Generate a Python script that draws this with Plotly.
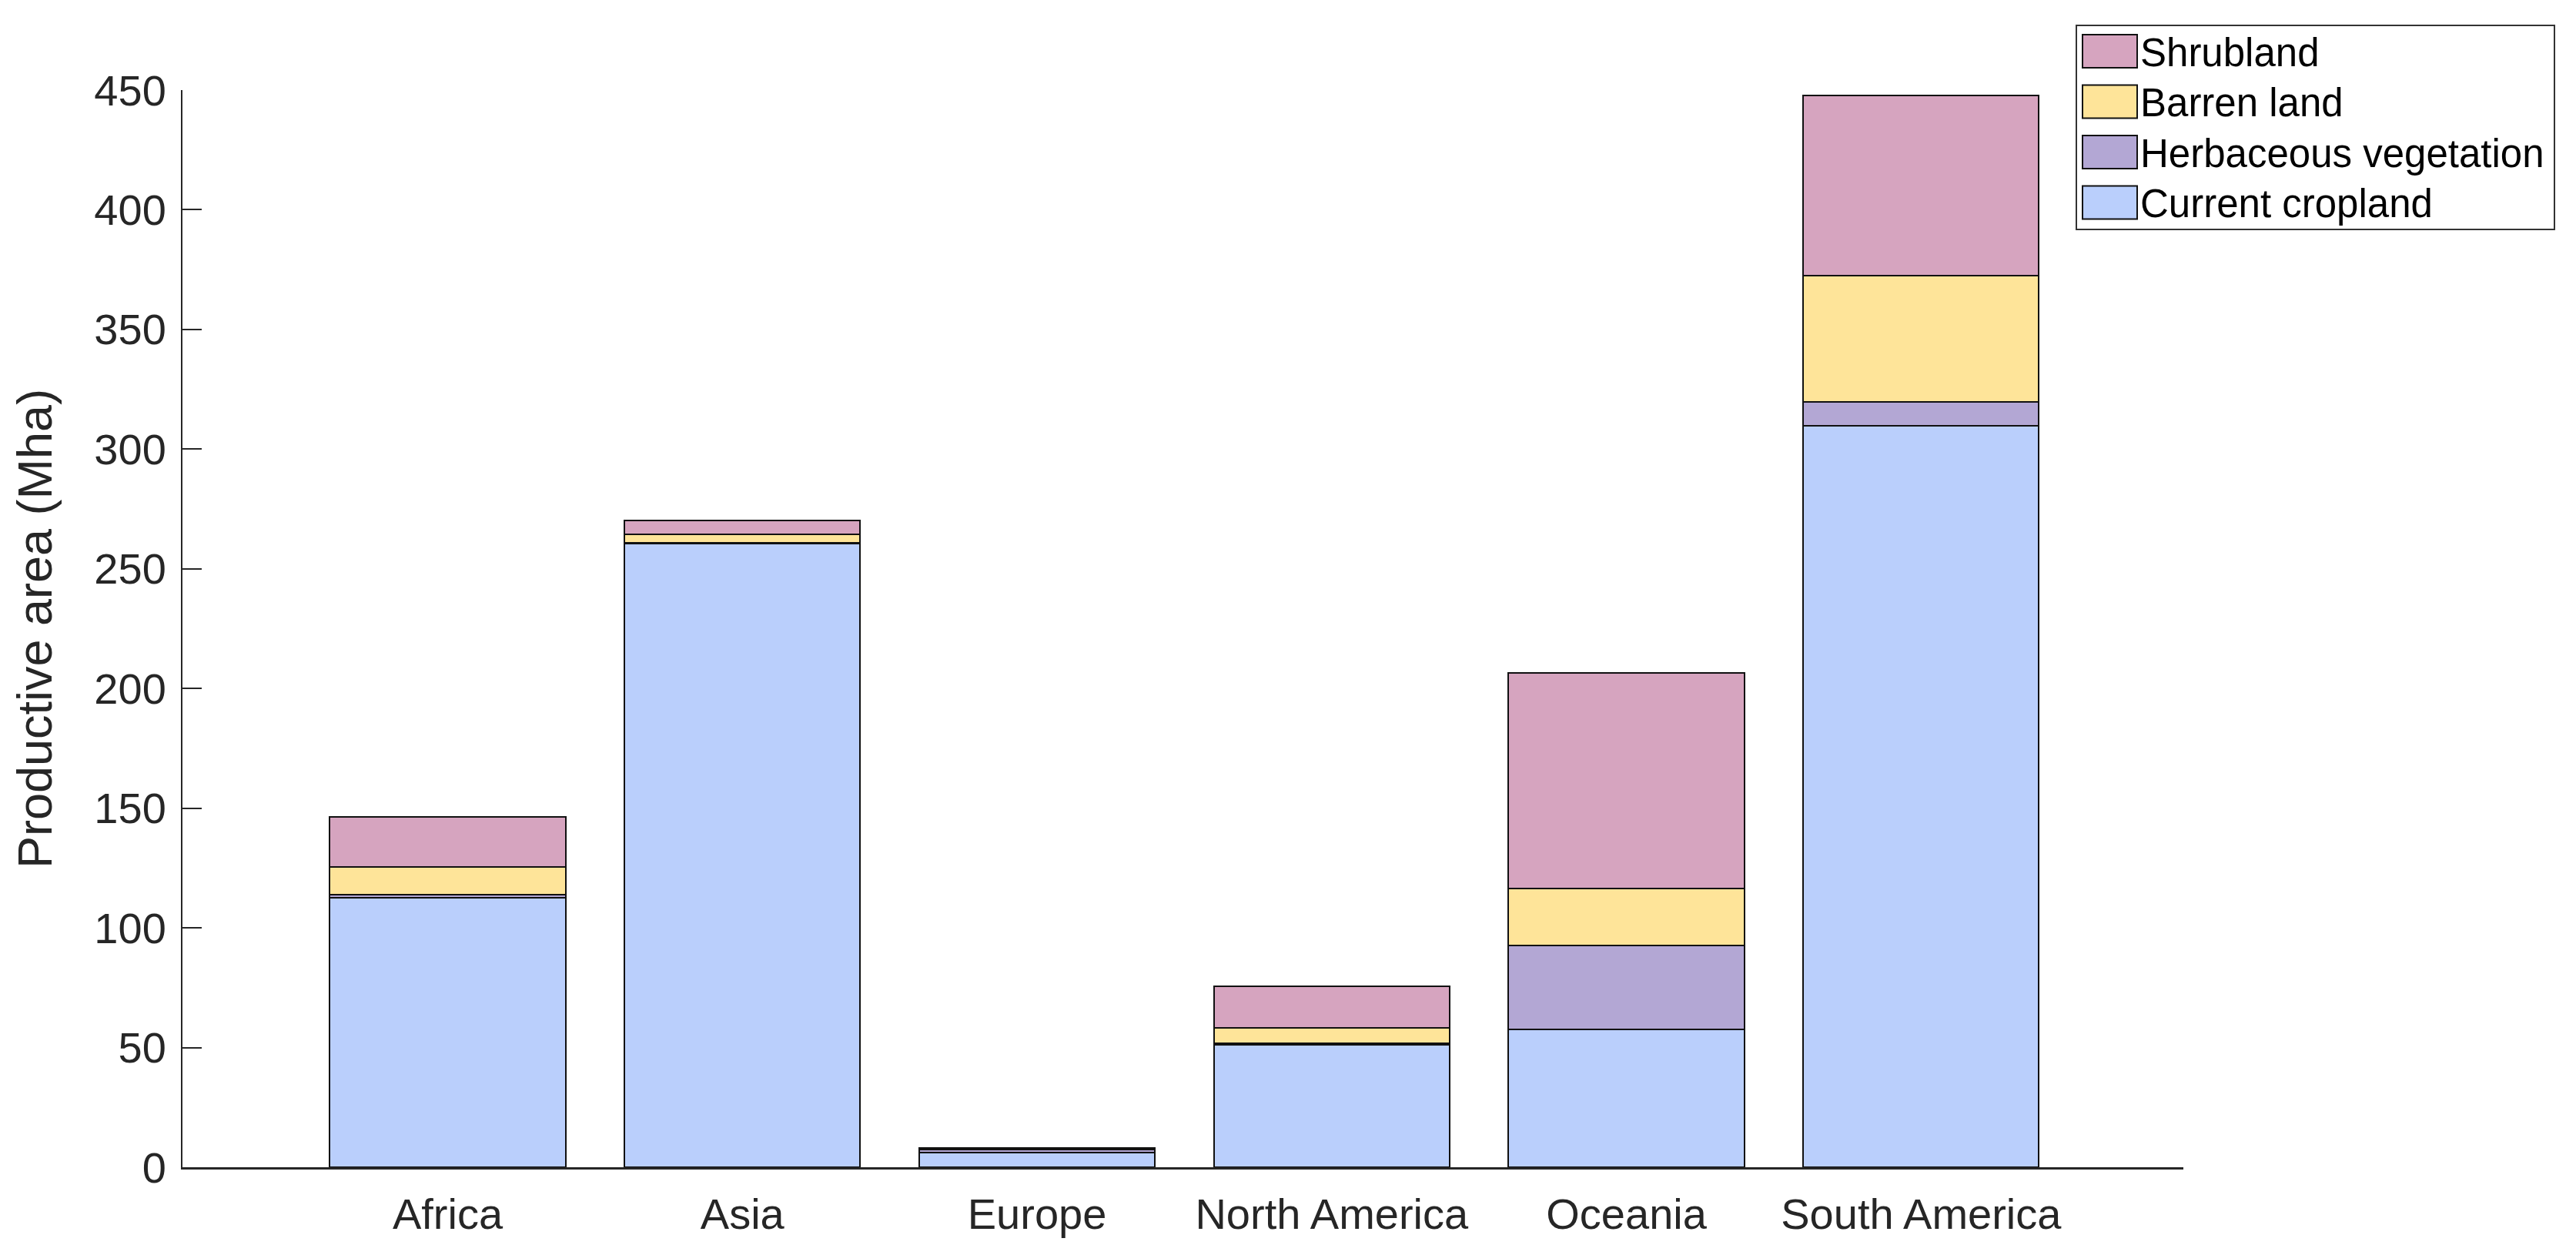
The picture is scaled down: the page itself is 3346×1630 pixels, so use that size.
import plotly.graph_objects as go

regions = ["Africa", "Asia", "Europe", "North America", "Oceania", "South America"]
cropland = [112.6, 260.5, 6.2, 51.0, 57.7, 309.7]
herbaceous = [1.3, 0.5, 1.2, 0.8, 34.9, 9.9]
barren = [11.7, 3.4, 0.3, 6.5, 23.8, 52.9]
shrubland = [20.7, 5.8, 0.3, 17.3, 90.1, 75.2]

series_names = ["Current cropland", "Herbaceous vegetation", "Barren land", "Shrubland"]
series_values = [cropland, herbaceous, barren, shrubland]
series_colors = ["#BACFFC", "#B3A7D4", "#FEE499", "#D6A4BF"]

y_ticks = [0, 50, 100, 150, 200, 250, 300, 350, 400, 450]

W, H = 3346, 1630
ml, mr, mt, mb = 237, 510, 117, 114

fig = go.Figure()
for name, vals, col in zip(series_names, series_values, series_colors):
    fig.add_trace(go.Bar(
        x=regions, y=vals, name=name,
        marker=dict(color=col, line=dict(color="#111111", width=2)),
        width=0.8, showlegend=False,
    ))

# Legend box (drawn in paper coordinates)
pw = W - ml - mr
ph = H - mt - mb
def px2paper_x(px):
    return (px - ml) / pw
def px2paper_y(py):
    return (H - mb - py) / ph

box_l, box_r, box_t, box_b = 2697, 3318, 33, 298
shapes = [dict(type="rect", xref="paper", yref="paper",
               x0=px2paper_x(box_l), x1=px2paper_x(box_r),
               y0=px2paper_y(box_b), y1=px2paper_y(box_t),
               line=dict(color="#333333", width=2), fillcolor="white", layer="above")]
annotations = []
entry_h = 65.5
for i, (name, col) in enumerate(zip(series_names[::-1], series_colors[::-1])):
    cy = 66.5 + i * entry_h
    shapes.append(dict(type="rect", xref="paper", yref="paper",
                       x0=px2paper_x(2705), x1=px2paper_x(2776),
                       y0=px2paper_y(cy + 21.5), y1=px2paper_y(cy - 21.5),
                       line=dict(color="#111111", width=2), fillcolor=col, layer="above"))
    annotations.append(dict(xref="paper", yref="paper",
                            x=px2paper_x(2778), y=px2paper_y(cy + 2),
                            xanchor="left", yanchor="middle", showarrow=False,
                            text=name, font=dict(size=51, color="black",
                                                 family="Liberation Sans, Arial, sans-serif")))

fig.update_layout(
    barmode="stack",
    width=W, height=H,
    margin=dict(l=ml, r=mr, t=mt, b=mb, pad=0),
    plot_bgcolor="white", paper_bgcolor="white",
    font=dict(family="Liberation Sans, Arial, sans-serif", size=56, color="#262626"),
    shapes=shapes, annotations=annotations,
    showlegend=False,
)
fig.update_xaxes(
    range=[-0.9, 5.89], showline=True, linecolor="#262626", linewidth=3,
    ticks="", showgrid=False, zeroline=False,
    tickfont=dict(size=56, color="#262626"), ticklabelstandoff=10,
)
fig.update_yaxes(
    range=[0, 450], tickvals=y_ticks, ticktext=[str(v) for v in y_ticks],
    showline=True, linecolor="#262626", linewidth=2,
    ticks="inside", ticklen=25, tickwidth=2, tickcolor="#262626",
    showgrid=False, zeroline=False,
    tickfont=dict(size=56, color="#262626"), ticklabelstandoff=8,
    title=dict(text="Productive area (Mha)", font=dict(size=63, color="#262626"), standoff=34),
)

fig.write_html("out.html", config={"displayModeBar": False},
               post_script="document.body.style.margin='0';document.body.style.overflow='hidden';")
